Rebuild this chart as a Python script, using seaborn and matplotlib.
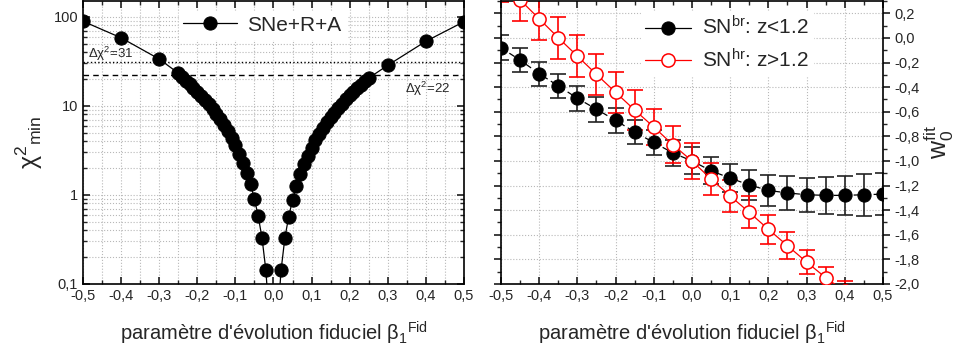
import matplotlib
matplotlib.use('Agg')
import matplotlib.pyplot as plt
import seaborn as sns
from matplotlib.ticker import MultipleLocator, LogLocator, FuncFormatter, NullFormatter

# panneau gauche : chi2 min selon beta1 fiduciel (SNe+R+A)
beta_gauche = [-0.5, -0.4, -0.3, -0.25, -0.24, -0.23, -0.22, -0.21, -0.20, -0.19, -0.18,
               -0.17, -0.16, -0.15, -0.14, -0.13, -0.12, -0.11, -0.10, -0.09, -0.08,
               -0.07, -0.06, -0.05, -0.04, -0.03, -0.02, -0.01,
               0.01, 0.02, 0.03, 0.04, 0.05, 0.06, 0.07, 0.08, 0.09, 0.10, 0.11, 0.12,
               0.13, 0.14, 0.15, 0.16, 0.17, 0.18, 0.19, 0.20, 0.21, 0.22, 0.23, 0.24,
               0.25, 0.3, 0.4, 0.5]
chi2_min = [89, 58, 33.5, 23.3, 21.0, 19.2, 17.5, 15.9, 14.4, 13.0, 11.7,
            10.4, 9.2, 8.1, 7.1, 6.1, 5.2, 4.4, 3.65, 2.9, 2.3,
            1.77, 1.31, 0.90, 0.575, 0.327, 0.143, 0.035,
            0.035, 0.143, 0.33, 0.57, 0.87, 1.27, 1.72, 2.2, 2.75, 3.4, 4.1, 4.85,
            5.65, 6.5, 7.4, 8.4, 9.5, 10.6, 11.8, 13.1, 14.4, 15.8, 17.3, 18.9,
            20.5, 28.5, 53, 88]
delta_chi2 = [31, 22]

# panneau droit : w0 ajuste pour les deux sous-echantillons
beta_droite = [-0.5, -0.45, -0.4, -0.35, -0.3, -0.25, -0.2, -0.15, -0.1, -0.05, 0.0,
               0.05, 0.1, 0.15, 0.2, 0.25, 0.3, 0.35, 0.4, 0.45, 0.5]
w0_br = [-0.08, -0.18, -0.29, -0.39, -0.49, -0.58, -0.67, -0.765, -0.85, -0.935, -1.0,
         -1.08, -1.14, -1.195, -1.24, -1.26, -1.275, -1.28, -1.28, -1.275, -1.27]
w0_br_err = [0.1, 0.095, 0.097, 0.098, 0.1, 0.1, 0.1, 0.1, 0.103, 0.105, 0.11,
             0.11, 0.115, 0.12, 0.125, 0.135, 0.14, 0.15, 0.16, 0.17, 0.17]
w0_hr = [0.46, 0.31, 0.156, 0.002, -0.147, -0.296, -0.442, -0.586, -0.724, -0.868, -1.0,
         -1.147, -1.285, -1.418, -1.556, -1.689, -1.822, -1.949, -2.06, -2.17, -2.28]
w0_hr_err = [0.17, 0.17, 0.17, 0.17, 0.17, 0.167, 0.165, 0.16, 0.15, 0.15, 0.146,
             0.13, 0.13, 0.13, 0.12, 0.11, 0.1, 0.088, 0.085, 0.08, 0.08]

sns.set_theme(style='ticks')
plt.rcParams['font.family'] = ['Liberation Sans Narrow', 'Liberation Sans', 'DejaVu Sans']
plt.rcParams['mathtext.fontset'] = 'custom'
plt.rcParams['mathtext.rm'] = 'Liberation Sans'
plt.rcParams['mathtext.it'] = 'Liberation Sans:italic'
plt.rcParams['mathtext.sf'] = 'Liberation Sans'

virgule = FuncFormatter(lambda v, p: f'{round(v, 1) + 0.0:.1f}'.replace('.', ','))
virgule_log = FuncFormatter(lambda v, p: f'{v:g}'.replace('.', ','))

fig = plt.figure(figsize=(9.56, 3.54), dpi=100)
ax1 = fig.add_axes([0.0868, 0.198, 0.3985, 0.799])
ax2 = fig.add_axes([0.524, 0.198, 0.3996, 0.799])

grille = dict(color='#b8b8b8', linestyle=':', linewidth=0.8)
titre_x = r"paramètre d'évolution fiduciel $\mathrm{β}_1{}^{\mathrm{Fid}}$"

# ---- gauche
ax1.set_yscale('log')
sns.lineplot(x=beta_gauche, y=chi2_min, ax=ax1, color='black', linewidth=0.9,
             marker='o', markersize=9.5, markeredgecolor='black', label='SNe+R+A')
ax1.axhline(delta_chi2[0], color='black', linestyle=':', linewidth=1.0)
ax1.axhline(delta_chi2[1], color='black', linestyle='--', linewidth=1.0, dashes=(4, 3))
ax1.text(-0.487, 38, r'$\Delta\mathrm{χ}^2$=31', fontsize=9.5, ha='left', va='center')
ax1.text(0.345, 15.5, r'$\Delta\mathrm{χ}^2$=22', fontsize=9.5, ha='left', va='center')
ax1.set_xlim(-0.5, 0.5)
ax1.set_ylim(0.1, 150)
ax1.xaxis.set_major_locator(MultipleLocator(0.1))
ax1.xaxis.set_minor_locator(MultipleLocator(0.05))
ax1.xaxis.set_major_formatter(virgule)
ax1.yaxis.set_major_locator(LogLocator(base=10, numticks=10))
ax1.yaxis.set_minor_locator(LogLocator(base=10, subs=range(2, 10), numticks=20))
ax1.yaxis.set_major_formatter(virgule_log)
ax1.yaxis.set_minor_formatter(NullFormatter())
ax1.grid(True, which='both', **grille)
ax1.tick_params(which='both', direction='in', top=True, right=True, labelsize=10.5)
ax1.tick_params(which='major', length=5)
ax1.tick_params(which='minor', length=3)
ax1.set_ylabel(r'$\mathrm{χ}^2{}_{\mathrm{min}}$', fontsize=18, labelpad=6)
ax1.set_xlabel(titre_x, fontsize=14.5, labelpad=12)
leg1 = ax1.legend(loc='upper center', bbox_to_anchor=(0.47, 1.0), fontsize=15, frameon=True,
                  fancybox=False, edgecolor='white', framealpha=1, handlelength=2.6,
                  borderpad=0.2, handletextpad=0.5)

# ---- droite
ax2.errorbar(beta_droite, w0_br, yerr=w0_br_err, fmt='none', ecolor='#222222',
             elinewidth=1.2, capsize=6, capthick=1.2, zorder=2)
ax2.errorbar(beta_droite, w0_hr, yerr=w0_hr_err, fmt='none', ecolor='red',
             elinewidth=1.2, capsize=6, capthick=1.2, zorder=2)
sns.lineplot(x=beta_droite, y=w0_br, ax=ax2, color='black', linewidth=0.9,
             linestyle=(0, (5, 3)), marker='o', markersize=9.5, markeredgecolor='black',
             label=r'SN$^{\mathrm{br}}$: z<1.2', zorder=3)
sns.lineplot(x=beta_droite, y=w0_hr, ax=ax2, color='red', linewidth=0.9,
             marker='o', markersize=9.5, markerfacecolor='white', markeredgecolor='red',
             markeredgewidth=1.1, label=r'SN$^{\mathrm{hr}}$: z>1.2', zorder=4)
ax2.set_xlim(-0.5, 0.5)
ax2.set_ylim(-2.0, 0.3)
ax2.xaxis.set_major_locator(MultipleLocator(0.1))
ax2.xaxis.set_minor_locator(MultipleLocator(0.05))
ax2.xaxis.set_major_formatter(virgule)
ax2.yaxis.set_major_locator(MultipleLocator(0.2))
ax2.yaxis.set_minor_locator(MultipleLocator(0.1))
ax2.yaxis.set_major_formatter(virgule)
ax2.yaxis.tick_right()
ax2.yaxis.set_label_position('right')
ax2.grid(True, which='major', **grille)
ax2.tick_params(which='both', direction='in', top=True, left=True, labelsize=10.5)
ax2.tick_params(axis='y', which='both', direction='out')
ax2.tick_params(which='major', length=5)
ax2.tick_params(which='minor', length=3)
ax2.set_ylabel(r'$\mathrm{w}_0^{\mathrm{fit}}$', fontsize=18, labelpad=1)
ax2.set_xlabel(titre_x, fontsize=14.5, labelpad=12)
leg2 = ax2.legend(loc='upper left', bbox_to_anchor=(0.34, 1.0), fontsize=15, frameon=True,
                  fancybox=False, edgecolor='white', framealpha=1, handlelength=2.2,
                  borderpad=0.2, handletextpad=0.5, labelspacing=0.45)
leg2.get_lines()[0].set_linestyle('-')

for ax in (ax1, ax2):
    for s in ax.spines.values():
        s.set_linewidth(1.2)
        s.set_color('black')

fig.savefig('out.png', dpi=100)
